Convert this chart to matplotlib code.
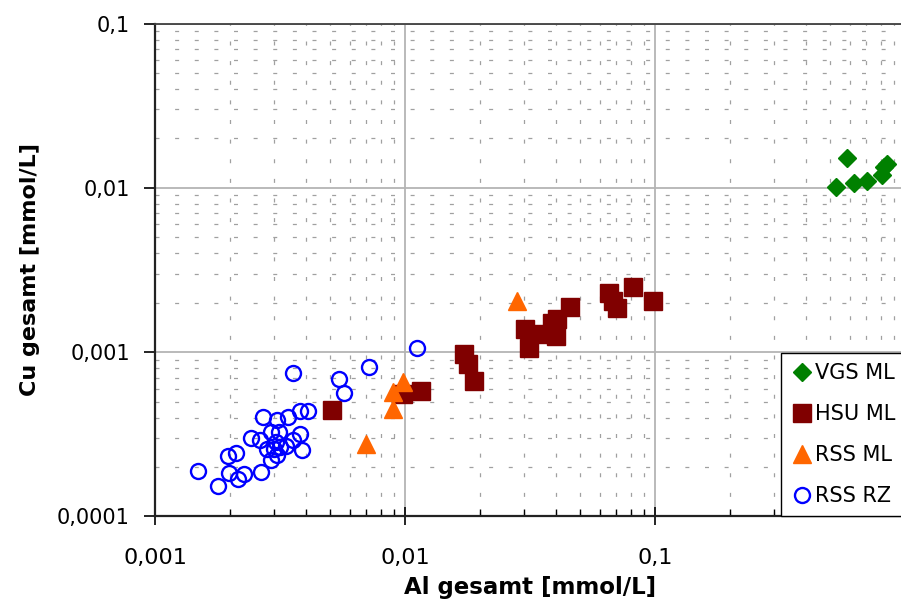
import matplotlib
matplotlib.use("Agg")
from matplotlib import pyplot as plt
from matplotlib.ticker import FixedLocator, LogLocator, NullFormatter

# Al gesamt / Cu gesamt [mmol/L]
vgs_al = [0.587, 0.528, 0.625, 0.706, 0.812, 0.824, 0.845]
vgs_cu = [0.0153, 0.0101, 0.0107, 0.0110, 0.0119, 0.0134, 0.0139]

hsu_al = [0.0172, 0.0178, 0.0188, 0.0301, 0.0313, 0.0347, 0.0386, 0.0402, 0.0406,
          0.0457, 0.0656, 0.0681, 0.0705, 0.0814, 0.0980, 0.00512, 0.0116, 0.00984]
hsu_cu = [0.000977, 0.000849, 0.000666, 0.00139, 0.00106, 0.00129, 0.00151, 0.00125, 0.00160,
          0.00189, 0.00229, 0.00205, 0.00185, 0.00250, 0.00205, 0.000442, 0.000577, 0.000553]

rssml_al = [0.00984, 0.00898, 0.00898, 0.00697, 0.0280]
rssml_cu = [0.000655, 0.000573, 0.000450, 0.000274, 0.00205]

rssrz_al = [0.00356, 0.00149, 0.00178, 0.00197, 0.00214, 0.00226, 0.00266, 0.00196,
            0.00211, 0.00242, 0.00264, 0.00271, 0.00307, 0.00341, 0.00380, 0.00411,
            0.00290, 0.00314, 0.00381, 0.00357, 0.00388, 0.00335, 0.00316, 0.00299,
            0.00280, 0.00292, 0.00308, 0.00305, 0.00546, 0.00568, 0.00720, 0.01114]
rssrz_cu = [0.000745, 0.000188, 0.000154, 0.000183, 0.000169, 0.000182, 0.000187, 0.000233,
            0.000244, 0.000299, 0.000291, 0.000402, 0.000388, 0.000404, 0.000441, 0.000440,
            0.000327, 0.000326, 0.000316, 0.000291, 0.000255, 0.000270, 0.000265, 0.000256,
            0.000256, 0.000222, 0.000236, 0.000283, 0.000685, 0.000560, 0.000807, 0.001057]

xticks = [0.001, 0.01, 0.1]
xticklabels = ["0,001", "0,01", "0,1"]
yticks = [0.0001, 0.001, 0.01, 0.1]
yticklabels = ["0,0001", "0,001", "0,01", "0,1"]

fig = plt.figure(figsize=(9.01, 6.07), dpi=100)
# axes runs to x=1, a bit past the right edge of the image (as in the original)
ax = fig.add_axes([155 / 901, 90.6 / 607, 750 / 901, 492.8 / 607])
ax.set_xscale("log")
ax.set_yscale("log")
ax.set_xlim(0.001, 1)
ax.set_ylim(0.0001, 0.1)

ax.plot(vgs_al, vgs_cu, ls="none", marker="D", ms=9.2, color="#008000", label="VGS ML")
ax.plot(hsu_al, hsu_cu, ls="none", marker="s", ms=13, color="#800000", label="HSU ML")
ax.plot(rssml_al, rssml_cu, ls="none", marker="^", ms=13, color="#ff6600", label="RSS ML")
ax.plot(rssrz_al, rssrz_cu, ls="none", marker="o", ms=10.8, mfc="none", mec="#0000ff",
        mew=1.7, label="RSS RZ")

# grid
ax.grid(True, which="major", color="#b4b4b4", lw=1.3, ls="-")
ax.grid(True, which="minor", color="#a0a0a0", lw=0.9, ls=(0, (3.2, 12.5)))
ax.set_axisbelow(True)

ax.xaxis.set_major_locator(FixedLocator(xticks))
ax.set_xticklabels(xticklabels, fontsize=16)
ax.xaxis.set_minor_locator(LogLocator(base=10, subs=range(2, 10)))
ax.xaxis.set_minor_formatter(NullFormatter())
ax.yaxis.set_major_locator(FixedLocator(yticks))
ax.set_yticklabels(yticklabels, fontsize=15)
ax.yaxis.set_minor_locator(LogLocator(base=10, subs=range(2, 10)))
ax.yaxis.set_minor_formatter(NullFormatter())

ax.tick_params(axis="x", which="major", direction="inout", length=13, width=1.2, pad=16)
ax.tick_params(axis="x", which="minor", direction="in", length=5, width=1)
ax.tick_params(axis="y", which="major", direction="out", length=8, width=1.2, pad=10)
ax.tick_params(axis="y", which="minor", length=0)

for side in ["left", "bottom"]:
    ax.spines[side].set_linewidth(1.6)
    ax.spines[side].set_color("#222222")
ax.spines["top"].set_linewidth(1.3)
ax.spines["top"].set_color("#404040")

ax.set_xlabel("Al gesamt [mmol/L]", fontsize=16.5, fontweight="bold", labelpad=6)
ax.set_ylabel("Cu gesamt [mmol/L]", fontsize=16, fontweight="bold", labelpad=12)

leg = ax.legend(loc="lower left", bbox_to_anchor=((781 - 155) / 750, 0), borderaxespad=0,
                fontsize=15, frameon=True, fancybox=False, edgecolor="black",
                handlelength=1.0, handletextpad=0.12, borderpad=0.5, labelspacing=1.0)
leg.get_frame().set_linewidth(1.0)
leg.get_frame().set_alpha(None)
leg.get_frame().set_facecolor("white")

fig.savefig("out.png", dpi=100)
